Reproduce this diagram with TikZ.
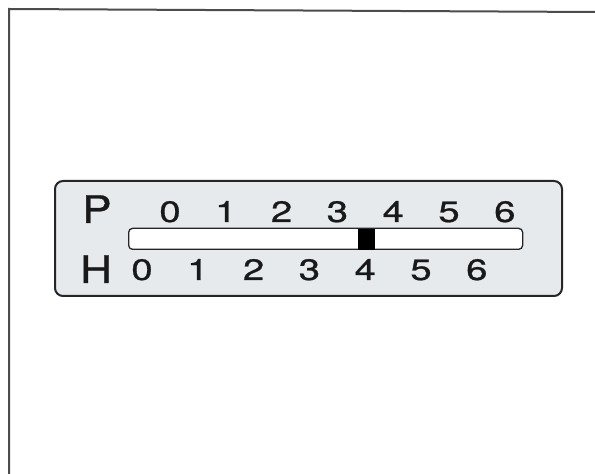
\documentclass[tikz,border=0pt]{standalone}
\usepackage{fontspec}
\setmainfont{TeX Gyre Heros}
\newfontfamily\digitfont[FakeStretch=1.3,FakeBold=0.8]{TeX Gyre Heros}
\newfontfamily\letterfont[FakeStretch=1.15,FakeBold=0.8]{TeX Gyre Heros}
\begin{document}
\begin{tikzpicture}[x=1pt,y=1pt,
  panel/.style={draw=black!85,line width=2pt,rounded corners=8pt,fill=panelgray},
  scalebar/.style={draw=black!85,line width=1.3pt,rounded corners=4pt,fill=white},
  marker/.style={fill=black,draw=none},
  bigletter/.style={font=\letterfont\fontsize{38}{38}\selectfont,anchor=base,inner sep=0pt,text=black!90},
  digit/.style={font=\digitfont\fontsize{29.5}{29.5}\selectfont,anchor=base,inner sep=0pt,text=black!90},
  frameline/.style={draw=black!70,line width=2pt}]
\definecolor{panelgray}{HTML}{E6EAEC}
\useasboundingbox (0,0) rectangle (595,474);
\fill[white] (0,0) rectangle (595,474);
% outer frame (top and left edges)
\coordinate (ftl) at (9,465);
\coordinate (ftr) at (595,462);
\coordinate (fbl) at (9,0);
\draw[frameline] (ftr) -- (ftl) -- (fbl);
% panel
\node[panel,minimum width=507pt,minimum height=115pt,anchor=south west,inner sep=0pt] (pan) at (54,177) {};
\node[scalebar,minimum width=394pt,minimum height=21pt,anchor=south west,inner sep=0pt] (bar) at (128,224) {};
\node[marker,minimum width=17pt,minimum height=21pt,anchor=south west,inner sep=0pt] (mk) at (358,224) {};
% letters
\node[bigletter] (P) at (97,251) {P};
\node[bigletter] (H) at (96,191) {H};
% scales
\foreach \i in {0,...,6}{
  \node[digit] (t\i) at ({170+55.8*\i},252) {\i};
  \node[digit] (b\i) at ({142+55.8*\i},194) {\i};
}
\end{tikzpicture}
\end{document}
